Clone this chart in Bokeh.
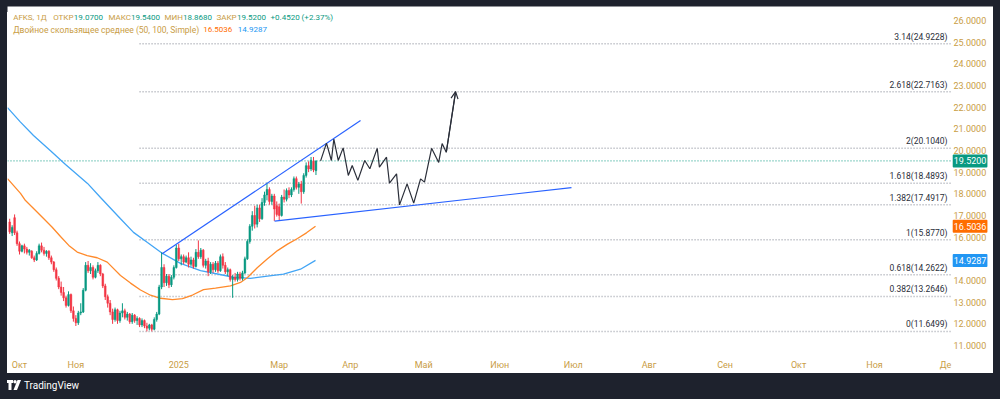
from bokeh.plotting import figure
from bokeh.models import (Range1d, FixedTicker, NumeralTickFormatter, Label,
                          Arrow, OpenHead, Div, ColumnDataSource)
from bokeh.layouts import column, row
from bokeh.core.properties import value
from bokeh.embed import file_html
from bokeh.resources import INLINE

FONT = "Roboto"
GOLD = "#c99d45"
UP = "#089981"
DOWN = "#f23645"
DARK = "#1e222d"

# ---------------- data ----------------
# daily candles, bar index starting at -4 (Oct 2024 label at bar 0)
opens = [16.70, 16.20, 16.90, 16.20,
         15.70, 15.35, 15.60, 15.45, 15.30, 15.35, 15.05, 14.95, 15.25, 15.60,
         15.40, 15.25, 15.35, 15.05, 14.85, 14.50, 14.10, 13.70, 13.45, 13.20,
         12.85, 13.35, 12.60, 12.25, 12.05, 12.50, 12.55, 13.55, 14.70, 14.45,
         14.60, 14.15, 14.45, 14.70, 14.30, 13.75, 13.25, 12.95, 12.55, 12.20,
         12.65, 12.15, 12.50, 12.60, 12.30, 12.45, 12.10, 12.40, 12.15, 12.25,
         11.95, 12.15, 11.90, 11.80, 11.95, 11.75, 12.20, 12.45, 13.70, 14.60,
         13.90, 14.20, 13.80, 14.15, 14.60, 15.50, 15.00, 15.10, 14.85, 15.05,
         14.75, 14.95, 14.65, 15.30, 15.10, 15.40, 14.70, 14.90, 14.40, 14.75,
         14.50, 14.80, 14.45, 15.10, 14.70, 14.40, 14.50, 14.05, 14.15, 14.05,
         14.30, 14.10, 14.35, 15.00, 15.80, 16.50, 17.00, 16.60, 17.35, 16.85,
         17.60, 17.95, 18.20, 17.65, 17.90, 17.45, 17.40, 17.00, 17.85, 17.75,
         18.15, 17.95, 18.20, 18.70, 18.30, 18.45, 18.10, 18.85, 19.30, 19.15,
         19.50, 19.07]
highs = [16.85, 16.55, 17.05, 16.30,
         15.80, 15.65, 15.70, 15.55, 15.45, 15.40, 15.15, 15.35, 15.70, 15.75,
         15.55, 15.40, 15.40, 15.15, 14.90, 14.60, 14.20, 13.95, 13.70, 13.30,
         13.50, 13.40, 12.80, 12.40, 12.60, 12.95, 13.65, 14.85, 14.90, 14.80,
         14.70, 14.55, 14.85, 14.75, 14.35, 13.85, 13.35, 13.10, 12.70, 12.75,
         12.70, 12.60, 12.95, 12.70, 12.55, 12.50, 12.50, 12.45, 12.35, 12.30,
         12.25, 12.20, 12.05, 12.00, 12.00, 12.30, 12.55, 13.80, 15.30, 14.75,
         14.30, 14.30, 14.25, 14.70, 15.65, 15.70, 15.20, 15.20, 15.15, 15.30,
         15.10, 15.05, 15.45, 15.85, 15.50, 15.45, 15.00, 15.05, 14.85, 14.85,
         14.90, 14.90, 15.20, 15.25, 14.85, 14.60, 14.55, 14.25, 14.35, 14.40,
         14.40, 14.45, 15.10, 15.90, 16.60, 17.20, 17.45, 17.50, 17.50, 17.80,
         18.10, 18.52, 18.30, 18.00, 18.00, 17.65, 17.55, 17.95, 18.20, 18.25,
         18.30, 18.30, 18.80, 18.80, 18.55, 18.60, 18.95, 19.45, 19.50, 19.70,
         19.70, 19.54]
lows = [16.15, 16.05, 16.10, 15.60,
        15.20, 15.30, 15.25, 15.20, 15.15, 15.00, 14.85, 14.90, 15.20, 15.30,
        15.15, 15.10, 14.95, 14.75, 14.40, 14.00, 13.60, 13.30, 13.05, 12.75,
        12.80, 12.50, 12.10, 11.90, 11.95, 12.40, 12.50, 13.50, 14.35, 14.30,
        14.05, 14.10, 14.35, 14.20, 13.65, 13.10, 12.75, 12.40, 12.00, 12.10,
        12.00, 12.05, 12.30, 12.20, 12.15, 12.00, 12.00, 12.05, 11.95, 11.85,
        11.85, 11.80, 11.65, 11.70, 11.65, 11.70, 12.10, 12.40, 13.60, 13.70,
        13.75, 13.65, 13.70, 14.05, 14.55, 14.90, 14.70, 14.75, 14.80, 14.60,
        14.65, 14.55, 14.60, 15.00, 15.00, 14.60, 14.55, 14.20, 14.30, 14.35,
        14.40, 14.35, 14.40, 14.55, 14.30, 14.20, 13.95, 13.20, 13.95, 13.95,
        14.00, 14.00, 14.30, 14.95, 15.70, 16.30, 16.40, 16.45, 16.70, 16.80,
        17.45, 17.70, 17.50, 17.50, 16.75, 16.95, 16.78, 16.95, 17.60, 17.65,
        17.80, 17.85, 18.10, 18.20, 18.00, 17.55, 18.00, 18.75, 19.00, 19.05,
        19.00, 18.868]
closes = [16.25, 16.45, 16.20, 15.70,
          15.35, 15.60, 15.45, 15.30, 15.40, 15.05, 14.95, 15.25, 15.60, 15.40,
          15.25, 15.35, 15.05, 14.85, 14.50, 14.10, 13.70, 13.45, 13.20, 12.85,
          13.35, 12.60, 12.25, 12.05, 12.50, 12.55, 13.55, 14.70, 14.45, 14.60,
          14.15, 14.45, 14.70, 14.30, 13.75, 13.25, 12.95, 12.55, 12.20, 12.65,
          12.15, 12.50, 12.60, 12.30, 12.45, 12.10, 12.40, 12.15, 12.25, 11.95,
          12.15, 11.90, 11.80, 11.95, 11.75, 12.20, 12.45, 13.70, 14.60, 13.90,
          14.20, 13.80, 14.15, 14.60, 15.50, 15.00, 15.10, 14.85, 15.05, 14.75,
          14.95, 14.65, 15.30, 15.10, 15.40, 14.70, 14.90, 14.40, 14.75, 14.50,
          14.80, 14.45, 15.10, 14.70, 14.40, 14.50, 14.05, 14.15, 14.05, 14.30,
          14.10, 14.35, 15.00, 15.80, 16.50, 17.00, 16.60, 17.35, 16.85, 17.60,
          17.95, 18.20, 17.65, 17.90, 17.30, 17.05, 17.00, 17.85, 17.75, 18.15,
          17.95, 18.20, 18.70, 18.30, 18.45, 18.10, 18.85, 19.30, 19.15, 19.55,
          19.10, 19.52]
first_bar = -4

# moving averages (bar index, price)
sma50_x = [-4.9, 0.41, 2.45, 5.84, 9.92, 13.35, 16.73, 20.12, 23.55, 27.63, 31.71,
           35.8, 41.22, 45.31, 49.39, 53.47, 57.55, 62.45, 66.53, 70.61, 75.1, 80.0,
           86.12, 90.2, 93.06, 97.14, 101.22, 105.31, 109.39, 113.47, 117.14, 120.82]
sma50_y = [18.70, 18.02, 17.69, 17.31, 16.85, 16.46, 16.03, 15.62, 15.31, 15.15, 15.05,
           14.85, 14.23, 13.88, 13.56, 13.32, 13.18, 13.12, 13.16, 13.33, 13.58, 13.65,
           13.75, 13.91, 14.14, 14.60, 15.00, 15.38, 15.68, 15.94, 16.20, 16.5036]
sma100_x = [-4.9, 0.41, 5.71, 12.65, 18.78, 27.76, 33.06, 41.22, 46.53, 52.24, 58.37,
            65.71, 73.88, 80.82, 87.35, 94.29, 101.22, 107.76, 114.69, 120.82]
sma100_y = [21.98, 21.31, 20.69, 19.99, 19.35, 18.48, 17.83, 16.85, 16.22, 15.75, 15.25,
            14.79, 14.46, 14.30, 14.15, 14.10, 14.20, 14.29, 14.52, 14.9287]

# Fibonacci extension levels
fib_ratios = ["0", "0.382", "0.618", "1", "1.382", "1.618", "2", "2.618", "3.14"]
fib_prices = [11.6499, 13.2646, 14.2622, 15.8770, 17.4917, 18.4893, 20.1040, 22.7163, 24.9228]
fib_start = 49

# trend lines
up_line_x = [58.2, 139.2]
up_line_y = [15.23, 21.38]
low_line_x = [104.1, 225.3]
low_line_y = [16.74, 18.29]

# projected path
zz_x = [122.9, 125.3, 127.3, 128.3, 130.1, 132.1, 134.2, 135.8, 138.1, 140.9, 143.0,
        146.0, 146.9, 149.8, 151.0, 153.9, 155.1, 158.2, 160.9, 163.7, 165.3, 168.2,
        171.1, 172.5, 174.2, 178.0]
zz_y = [19.52, 20.34, 19.54, 20.53, 19.54, 20.12, 18.85, 19.31, 18.62, 19.54, 19.16,
        20.10, 19.23, 19.69, 18.49, 18.92, 17.49, 18.46, 17.57, 18.69, 18.54, 20.10,
        19.45, 20.32, 19.92, 22.7163]

# axes
month_ticks = [0, 23, 65, 106, 135, 165, 196, 226, 257, 288, 318, 349, 378]
month_labels = ["Окт", "Ноя", "2025", "Мар", "Апр", "Май", "Июн", "Июл", "Авг",
                "Сен", "Окт", "Ноя", "Де"]
price_ticks = [11, 12, 13, 14, 15, 16, 17, 18, 19, 20, 21, 22, 23, 24, 25, 26]

last_price = 19.52
sma50_last = 16.5036
sma100_last = 14.9287

# ---------------- figure ----------------
# the frame spans the chart area plus the price-scale strip on its right
X0, X_END, X1 = -4.9, 380.0, 397.55
X_BADGE = 380.9
p = figure(width=986, height=367, x_range=Range1d(X0, X1), y_range=Range1d(10.677, 26.646),
           output_backend="svg", toolbar_location=None, y_axis_location="right",
           min_border_left=0, min_border_top=0, min_border_right=0, min_border_bottom=21)
p.outline_line_color = None
p.grid.visible = False
p.background_fill_color = "white"
p.border_fill_color = "white"

for ax in (p.xaxis[0], p.yaxis[0]):
    ax.axis_line_color = None
    ax.major_tick_line_color = None
    ax.minor_tick_line_color = None
    ax.major_tick_out = 0
    ax.major_tick_in = 0
    ax.major_label_text_font = FONT
    ax.major_label_text_font_size = "9px"
    ax.major_label_text_color = GOLD

xa = p.xaxis[0]
xa.ticker = FixedTicker(ticks=month_ticks)
xa.major_label_overrides = {t: l for t, l in zip(month_ticks, month_labels)}
xa.major_label_standoff = 7

ya = p.yaxis[0]
ya.ticker = FixedTicker(ticks=price_ticks)
ya.formatter = NumeralTickFormatter(format="0.0000")
ya.major_label_standoff = -40

# fib levels
fib_src = ColumnDataSource(dict(
    x0=[fib_start] * len(fib_prices), x1=[X_END] * len(fib_prices), y=fib_prices,
    label=[f"{r}({v:.4f})" for r, v in zip(fib_ratios, fib_prices)]))
p.segment(x0="x0", y0="y", x1="x1", y1="y", source=fib_src, line_color="#a3a6af",
          line_width=1.5, line_dash="1 2")
p.text(x="x1", y="y", text="label", source=fib_src, text_align="right",
       text_baseline="bottom", x_offset=-3, y_offset=-2, text_font=value(FONT),
       text_font_size="8.5px", text_color="#2a2e39")

# current price line
p.segment(x0=[X0], y0=[last_price], x1=[X_END], y1=[last_price], line_color=UP,
          line_dash="1 2", line_width=1)

# moving averages
p.line(sma100_x, sma100_y, line_color="#42a5f5", line_width=1.3)
p.line(sma50_x, sma50_y, line_color="#ff8a2b", line_width=1.3)

# candles
bar_x = list(range(first_bar, first_bar + len(closes)))
colors = [UP if c >= o else DOWN for o, c in zip(opens, closes)]
csrc = ColumnDataSource(dict(
    x=bar_x, high=highs, low=lows,
    top=[max(o, c) for o, c in zip(opens, closes)],
    bottom=[min(o, c) for o, c in zip(opens, closes)], color=colors))
p.segment(x0="x", y0="high", x1="x", y1="low", source=csrc, line_color="color", line_width=1)
p.vbar(x="x", width=0.7, top="top", bottom="bottom", source=csrc,
       fill_color="color", line_color="color", line_width=0.5)

# trend lines
p.line(up_line_x, up_line_y, line_color="#2962ff", line_width=1.2)
p.line(low_line_x, low_line_y, line_color="#2962ff", line_width=1.2)

# projected path
p.line(zz_x, zz_y, line_color="#2a2e39", line_width=1.2)
p.add_layout(Arrow(end=OpenHead(size=7, line_color="#2a2e39", line_width=1.2),
                   x_start=zz_x[-2], y_start=zz_y[-2], x_end=zz_x[-1], y_end=zz_y[-1],
                   line_color="#2a2e39", line_width=1.2))

# legend header texts
def hdr(x, y, text, color, size="8px"):
    p.add_layout(Label(x=x, x_units="screen", y=y, y_units="data", text=text,
                       text_color=color, text_font=FONT, text_font_size=size,
                       text_baseline="middle"))

row1, row2 = 26.152, 25.571
hdr(5.7, row1, "AFKS, 1Д", GOLD)
hdr(45.7, row1, "ОТКР", GOLD)
hdr(66.3, row1, "19.0700", UP)
hdr(101, row1, "МАКС", GOLD)
hdr(123.5, row1, "19.5400", UP)
hdr(157, row1, "МИН", GOLD)
hdr(175.5, row1, "18.8680", UP)
hdr(209, row1, "ЗАКР", GOLD)
hdr(229.5, row1, "19.5200", UP)
hdr(263, row1, "+0.4520 (+2.37%)", UP)
hdr(5.7, row2, "Двойное скользящее среднее (50, 100, Simple)", GOLD, "8.5px")
hdr(195.7, row2, f"{sma50_last:.4f}", "#ff6d00")
hdr(230.3, row2, f"{sma100_last:.4f}", "#2196f3")

# price badges on the scale
for val, col in ((last_price, UP), (sma50_last, "#ff6d00"), (sma100_last, "#2196f3")):
    p.add_layout(Label(x=X_BADGE, x_units="data", y=val, y_units="data", text=f"{val:.4f}",
                       text_color="white", text_font=FONT, text_font_size="9px",
                       text_baseline="middle", background_fill_color=col,
                       padding=(1, 3), border_radius=1))


def dark(w, h, html=""):
    return Div(text=(f'<div style="background:{DARK};width:{w}px;height:{h}px;'
                     'box-sizing:border-box;overflow:hidden">' + html + '</div>'),
               width=w, height=h, margin=0, styles={"background-color": DARK})


logo = ('<svg width="14" height="10" viewBox="0 0 14 10" style="vertical-align:-1px;margin-right:3px">'
        '<path d="M0 0H6V3H4.5V10H1.5V3H0Z" fill="#fff"/><circle cx="8" cy="1.7" r="1.7" fill="#fff"/>'
        '<path d="M10.5 0H14L10 10H6.5Z" fill="#fff"/></svg>')
brand = ('<div style="padding:7px 0 0 7px;color:#ffffff;font:10px Roboto, sans-serif;'
         'white-space:nowrap">' + logo + 'TradingView</div>')

layout = column(
    dark(1000, 6),
    row(dark(7, 367), p, dark(7, 367), spacing=0),
    dark(1000, 26, brand),
    spacing=0,
)
open("out.html", "w").write(file_html(layout, INLINE))
